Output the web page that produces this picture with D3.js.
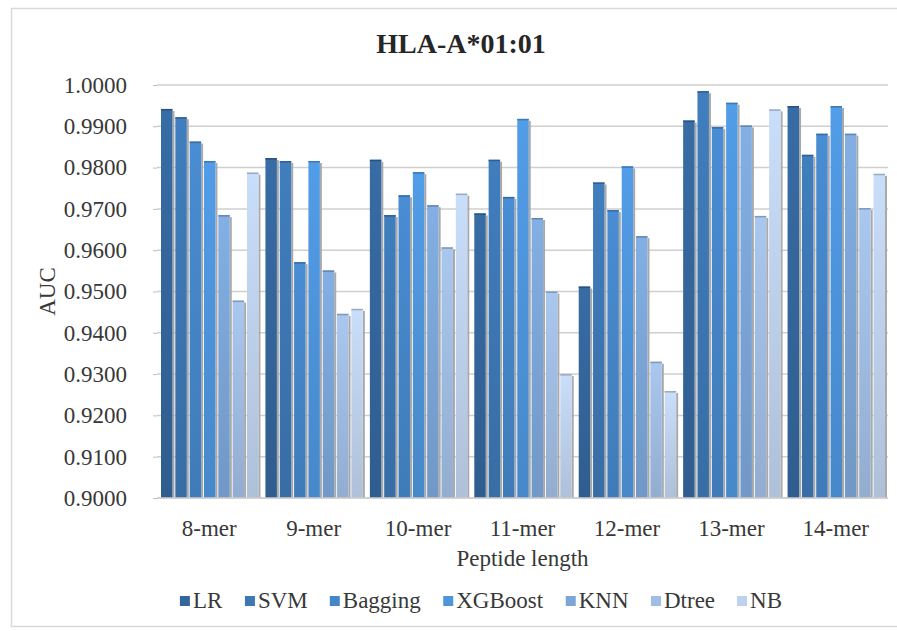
<!DOCTYPE html>
<html>
<head>
<meta charset="utf-8">
<script src="https://cdn.jsdelivr.net/npm/d3@7"></script>
<style>
  html, body { margin: 0; padding: 0; background: #fff; }
  svg text { font-family: "Liberation Serif", "Times New Roman", Tinos, "DejaVu Serif", serif !important; }
</style>
</head>
<body>
<svg id="chart" width="897" height="631"></svg>
<script>
// Peptide lengths (x categories) and classifier series
const lengths = ["8-mer", "9-mer", "10-mer", "11-mer", "12-mer", "13-mer", "14-mer"];
const models = ["LR", "SVM", "Bagging", "XGBoost", "KNN", "Dtree", "NB"];

// AUC per classifier, one value per peptide length
const LR      = [0.9942, 0.9823, 0.9819, 0.9689, 0.9512, 0.9914, 0.9949];
const SVM     = [0.9922, 0.9816, 0.9685, 0.9819, 0.9764, 0.9985, 0.9831];
const Bagging = [0.9863, 0.9571, 0.9733, 0.9729, 0.9697, 0.9898, 0.9882];
const XGBoost = [0.9816, 0.9816, 0.9789, 0.9918, 0.9803, 0.9957, 0.9949];
const KNN     = [0.9685, 0.9551, 0.9709, 0.9678, 0.9634, 0.9902, 0.9882];
const Dtree   = [0.9478, 0.9446, 0.9607, 0.9500, 0.9330, 0.9683, 0.9702];
const NB      = [0.9788, 0.9458, 0.9737, 0.9300, 0.9259, 0.9941, 0.9785];

const yTicks = [0.90, 0.91, 0.92, 0.93, 0.94, 0.95, 0.96, 0.97, 0.98, 0.99, 1.00];

const seriesValues = { LR, SVM, Bagging, XGBoost, KNN, Dtree, NB };
const colors = ["#34669c", "#3d77b4", "#4586c9", "#4e95dc", "#7ca6d8", "#a1bde3", "#bfd2ed"];

const svg = d3.select("#chart");
const margin = { left: 157, right: 9, top: 85, bottom: 133 };
const W = 897, H = 631;
const textColor = "#383838";

// outer frame
svg.append("rect")
  .attr("x", 11.5).attr("y", 8.5)
  .attr("width", 900).attr("height", 618)
  .attr("fill", "#fff").attr("stroke", "#d9d9d9").attr("stroke-width", 1.5);

const x0 = d3.scaleBand().domain(lengths).range([margin.left, W - margin.right]).padding(0);
const x1 = d3.scaleBand().domain(models).range([4, x0.bandwidth() - 3]).paddingInner(0.2);
const y = d3.scaleLinear().domain([0.90, 1.00]).range([H - margin.bottom, margin.top]);

// vertical gradient per series
const defs = svg.append("defs");
models.forEach((m, i) => {
  const c = d3.color(colors[i]);
  const g = defs.append("linearGradient").attr("id", "g" + i)
    .attr("x1", 0).attr("y1", 0).attr("x2", 0).attr("y2", 1);
  g.append("stop").attr("offset", "0%").attr("stop-color", c.brighter(0.15));
  g.append("stop").attr("offset", "100%").attr("stop-color", c.darker(0.25));
});

// horizontal gridlines
svg.append("g").selectAll("line").data(yTicks).join("line")
  .attr("x1", margin.left).attr("x2", W - margin.right)
  .attr("y1", d => y(d)).attr("y2", d => y(d))
  .attr("stroke", "#cfcfcf").attr("stroke-width", 1.5);

// y axis labels and small ticks
const yAxis = d3.axisLeft(y).tickValues(yTicks).tickFormat(d3.format(".4f")).tickSize(4).tickPadding(26);
const yg = svg.append("g").attr("transform", `translate(${margin.left},0)`).call(yAxis);
yg.select(".domain").remove();
yg.selectAll(".tick line").attr("stroke", "#bdbdbd");
yg.selectAll(".tick text").attr("font-size", 23).attr("fill", textColor);

// bars
const groups = svg.append("g").selectAll("g").data(lengths).join("g")
  .attr("transform", d => `translate(${x0(d)},0)`);

groups.each(function (len, gi) {
  const g = d3.select(this);
  const rows = models.map((m, i) => ({ m, i, v: seriesValues[m][gi] }));
  // soft shadow to the right of each bar
  g.selectAll("rect.sh").data(rows).join("rect").attr("class", "sh")
    .attr("x", d => x1(d.m) + x1.bandwidth())
    .attr("y", d => y(d.v) + 2)
    .attr("width", 2)
    .attr("height", d => y(0.90) - y(d.v) - 2)
    .attr("fill", "#a9a9a9");
  g.selectAll("rect.bar").data(rows).join("rect").attr("class", "bar")
    .attr("x", d => x1(d.m))
    .attr("y", d => y(d.v))
    .attr("width", x1.bandwidth())
    .attr("height", d => y(0.90) - y(d.v))
    .attr("fill", d => `url(#g${d.i})`);
  // darker cap on top of each bar
  g.selectAll("rect.cap").data(rows).join("rect").attr("class", "cap")
    .attr("x", d => x1(d.m))
    .attr("y", d => y(d.v))
    .attr("width", x1.bandwidth())
    .attr("height", 1.5)
    .attr("fill", d => d3.color(colors[d.i]).darker(0.6));
});

// x axis baseline and labels
svg.append("line")
  .attr("x1", margin.left).attr("x2", W - margin.right)
  .attr("y1", y(0.90)).attr("y2", y(0.90))
  .attr("stroke", "#cfcfcf").attr("stroke-width", 1.5);

const xAxis = d3.axisBottom(x0).tickSize(0).tickPadding(22);
const xg = svg.append("g").attr("transform", `translate(0,${y(0.90)})`).call(xAxis);
xg.select(".domain").remove();
xg.selectAll(".tick text").attr("font-size", 23).attr("fill", textColor);

// title
svg.append("text")
  .attr("x", 461).attr("y", 53)
  .attr("text-anchor", "middle")
  .attr("font-size", 28).attr("font-weight", "bold").attr("fill", "#262626")
  .text("HLA-A*01:01");

// axis titles
svg.append("text")
  .attr("x", (margin.left + W - margin.right) / 2).attr("y", 566)
  .attr("text-anchor", "middle").attr("font-size", 23).attr("fill", textColor)
  .text("Peptide length");

svg.append("text")
  .attr("transform", `translate(55,${(y(0.9) + y(1.0)) / 2}) rotate(-90)`)
  .attr("text-anchor", "middle").attr("font-size", 23).attr("fill", textColor)
  .text("AUC");

// legend
const legend = svg.append("g");
const items = legend.selectAll("g").data(models).join("g");
items.append("rect").attr("width", 10).attr("height", 10).attr("y", -12)
  .attr("fill", (d, i) => colors[i]);
items.append("text").attr("x", 13).attr("font-size", 23).attr("fill", textColor).text(d => d);
const gap = 22;
let cx = 0;
items.each(function () {
  const w = this.getBBox().width;
  d3.select(this).attr("transform", `translate(${cx},0)`);
  cx += w + gap;
});
const legendW = cx - gap;
legend.attr("transform", `translate(${782 - legendW},608)`);
</script>
</body>
</html>
